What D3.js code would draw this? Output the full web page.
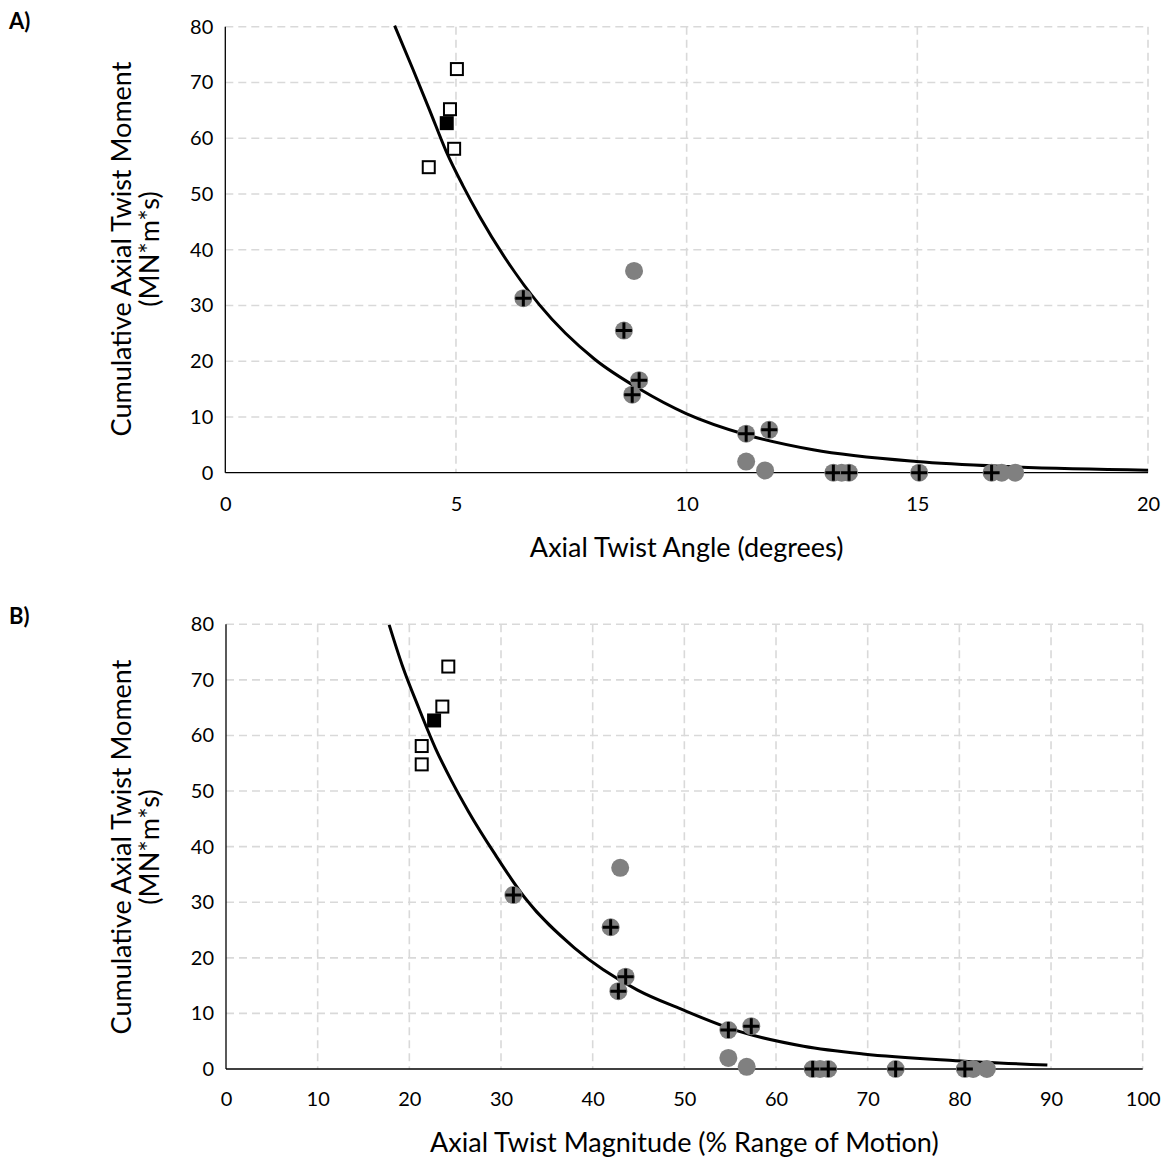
<!DOCTYPE html>
<html>
<head>
<meta charset="utf-8">
<script src="https://cdn.jsdelivr.net/npm/d3@7"></script>
<style>
  html, body { margin: 0; padding: 0; background: #fff; }
  svg text { font-family: Lato, "Open Sans", sans-serif; fill: #000; }
</style>
</head>
<body>
<svg id="chart" width="1165" height="1160"></svg>
<script>
// ---------- data ----------
// open squares
const sqOpenAngle = [5.02, 4.87, 4.96, 4.41];
const sqOpenMag = [24.25, 23.6, 21.35, 21.35];
const sqOpenMoment = [72.4, 65.2, 58.1, 54.8];
// filled square
const sqFilledAngle = [4.80];
const sqFilledMag = [22.7];
const sqFilledMoment = [62.7];
// gray circles with plus
const plusAngle = [6.46, 8.64, 8.97, 8.82, 11.29, 11.79, 13.18, 13.52, 15.04, 16.61];
const plusMag = [31.35, 41.96, 43.6, 42.8, 54.8, 57.3, 64.0, 65.7, 73.05, 80.6];
const plusMoment = [31.3, 25.5, 16.6, 14.0, 7.0, 7.7, 0, 0, 0, 0];
// plain gray circles
const circAngle = [8.86, 11.29, 11.70, 13.36, 16.83, 17.12];
const circMag = [43.0, 54.8, 56.8, 64.8, 81.5, 83.0];
const circMoment = [36.2, 2.0, 0.4, 0, 0, 0];
// trend lines
const trendAngleX = [3.67, 4.06, 4.43, 4.79, 5.15, 5.51, 6.09, 6.81, 8.0, 8.98, 9.99, 11.29, 12.74, 14.98, 16.93, 20];
const trendAngleY = [80.2, 72.5, 65.0, 57.6, 51.5, 46.0, 38.2, 30.1, 20.4, 15.0, 10.6, 6.8, 4.1, 2.0, 1.1, 0.45];
const trendMagX = [17.8, 19.23, 21.04, 22.85, 24.65, 26.46, 29.36, 32.6, 38.0, 44.9, 49.6, 55.7, 63.0, 69.5, 79.6, 89.6];
const trendMagY = [79.9, 72.6, 64.9, 57.7, 51.7, 46.3, 38.6, 30.8, 21.8, 14.2, 10.8, 6.9, 4.1, 2.7, 1.5, 0.7];
// ticks
const yTicks = [0, 10, 20, 30, 40, 50, 60, 70, 80];
const xTicksA = [0, 5, 10, 15, 20];
const xTicksB = [0, 10, 20, 30, 40, 50, 60, 70, 80, 90, 100];
// text
const yTitle1 = "Cumulative Axial Twist Moment";
const yTitle2 = "(MN*m*s)";
const xTitleA = "Axial Twist Angle (degrees)";
const xTitleB = "Axial Twist Magnitude (% Range of Motion)";

const svg = d3.select("#chart");
const zip = (a, b) => a.map((v, i) => [v, b[i]]);

function panel(cfg) {
  const x = d3.scaleLinear().domain(cfg.xDomain).range([cfg.left, cfg.right]);
  const y = d3.scaleLinear().domain([0, 80]).range([cfg.bottom, cfg.top]);
  const g = svg.append("g");

  // grid
  const grid = g.append("g").attr("stroke", "#d9d9d9").attr("stroke-width", 1.6)
    .attr("stroke-dasharray", "8,5").attr("fill", "none");
  yTicks.filter(t => t > 0).forEach(t => {
    grid.append("line").attr("x1", cfg.left).attr("x2", cfg.right)
      .attr("y1", y(t)).attr("y2", y(t));
  });
  cfg.xTicks.filter(t => t > 0).forEach(t => {
    grid.append("line").attr("x1", x(t)).attr("x2", x(t))
      .attr("y1", cfg.top).attr("y2", cfg.bottom);
  });

  // axes lines
  g.append("line").attr("x1", cfg.left).attr("x2", cfg.left)
    .attr("y1", cfg.top).attr("y2", cfg.bottom).attr("stroke", "#000").attr("stroke-width", 1.3);
  g.append("line").attr("x1", cfg.left).attr("x2", cfg.right)
    .attr("y1", cfg.bottom).attr("y2", cfg.bottom).attr("stroke", "#000").attr("stroke-width", 1.3);

  // tick labels via axes
  const yAxis = d3.axisLeft(y).tickValues(yTicks).tickSize(0).tickPadding(12);
  const ya = g.append("g").attr("transform", `translate(${cfg.left},0)`).call(yAxis);
  ya.select(".domain").remove();
  ya.selectAll("text").style("font-size", "20px").style("font-family", "Lato, sans-serif");

  const xAxis = d3.axisBottom(x).tickValues(cfg.xTicks).tickSize(0).tickPadding(cfg.xPad);
  const xa = g.append("g").attr("transform", `translate(0,${cfg.bottom})`).call(xAxis);
  xa.select(".domain").remove();
  xa.selectAll("text").style("font-size", "20px").style("font-family", "Lato, sans-serif");

  // titles
  g.append("text").attr("x", (cfg.left + cfg.right) / 2).attr("y", cfg.xTitleY)
    .attr("text-anchor", "middle").style("font-size", "27px").text(cfg.xTitle);
  const cy = cfg.yTitleC;
  g.append("text").attr("transform", `translate(131,${cy}) rotate(-90)`)
    .attr("text-anchor", "middle").style("font-size", "27px").text(yTitle1);
  g.append("text").attr("transform", `translate(159,${cy}) rotate(-90)`)
    .attr("text-anchor", "middle").style("font-size", "27px").text(yTitle2);
  g.append("text").attr("x", 9).attr("y", cfg.labelY)
    .style("font-size", "22px").style("font-weight", "bold").text(cfg.label);

  // trend line
  const line = d3.line().x(d => x(d[0])).y(d => y(d[1])).curve(d3.curveMonotoneX);
  g.append("path").datum(zip(cfg.trendX, cfg.trendY)).attr("d", line)
    .attr("fill", "none").attr("stroke", "#000").attr("stroke-width", 3);

  // plain circles
  g.append("g").selectAll("circle").data(zip(cfg.circX, circMoment)).join("circle")
    .attr("cx", d => x(d[0])).attr("cy", d => y(d[1])).attr("r", 9).attr("fill", "#808080");
  // circles with plus
  const pg = g.append("g").selectAll("g").data(zip(cfg.plusX, plusMoment)).join("g")
    .attr("transform", d => `translate(${x(d[0])},${y(d[1])})`);
  pg.append("circle").attr("r", 9).attr("fill", "#808080");
  pg.append("path").attr("d", "M-8,0H8M0,-8V8").attr("stroke", "#000").attr("stroke-width", 3);
  // open squares
  g.append("g").selectAll("rect").data(zip(cfg.sqOpenX, sqOpenMoment)).join("rect")
    .attr("x", d => x(d[0]) - 6).attr("y", d => y(d[1]) - 6).attr("width", 12).attr("height", 12)
    .attr("fill", "#fff").attr("stroke", "#000").attr("stroke-width", 2);
  // filled square
  g.append("g").selectAll("rect").data(zip(cfg.sqFilledX, sqFilledMoment)).join("rect")
    .attr("x", d => x(d[0]) - 7).attr("y", d => y(d[1]) - 7).attr("width", 14).attr("height", 14)
    .attr("fill", "#000");
}

panel({
  xDomain: [0, 20], left: 225.3, right: 1148, top: 26.7, bottom: 472.7,
  xTicks: xTicksA, xTitle: xTitleA, xPad: 24, xTitleY: 557, yTitleC: 249,
  label: "A)", labelY: 29,
  trendX: trendAngleX, trendY: trendAngleY,
  circX: circAngle, plusX: plusAngle, sqOpenX: sqOpenAngle, sqFilledX: sqFilledAngle
});
panel({
  xDomain: [0, 100], left: 226, right: 1142.7, top: 624.3, bottom: 1069,
  xTicks: xTicksB, xTitle: xTitleB, xPad: 23, xTitleY: 1152, yTitleC: 847,
  label: "B)", labelY: 624,
  trendX: trendMagX, trendY: trendMagY,
  circX: circMag, plusX: plusMag, sqOpenX: sqOpenMag, sqFilledX: sqFilledMag
});
</script>
</body>
</html>
